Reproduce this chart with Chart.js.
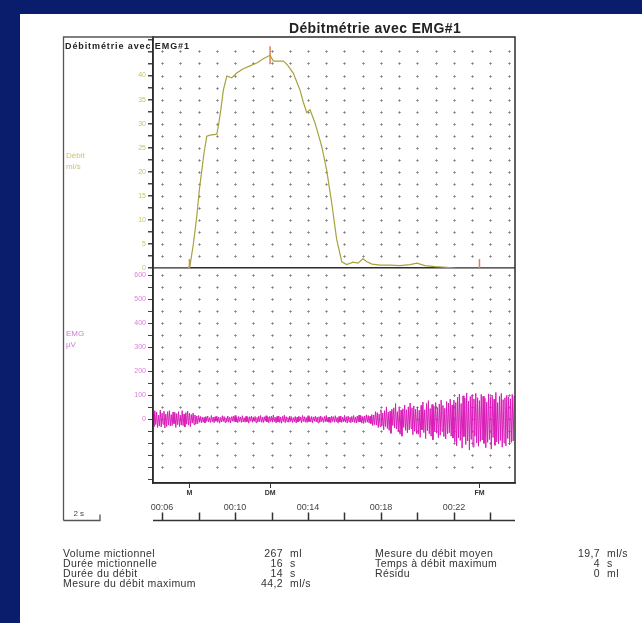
<!DOCTYPE html>
<html>
<head>
<meta charset="utf-8">
<script src="https://cdn.jsdelivr.net/npm/chart.js@4.4.0/dist/chart.umd.min.js"></script>
<style>
  html, body { margin: 0; padding: 0; }
  body { width: 642px; height: 623px; background: #0a1c6c; position: relative; overflow: hidden;
         font-family: 'Liberation Sans', Arial, sans-serif; color: #333; }
  #page { position: absolute; left: 20px; top: 14px; right: 0; bottom: 0; background: #fff; }
  #chart { position: absolute; left: 0; top: 0; }
  .t { position: absolute; white-space: nowrap; }
  .title { left: 375px; top: 20px; transform: translateX(-50%); font-weight: bold; font-size: 14px; letter-spacing: 0.4px; color: #222; }
  .head { left: 65px; top: 42px; font-weight: bold; font-size: 9px; letter-spacing: 0.9px; color: #222; line-height: 9px; }
  .unit { font-size: 8px; line-height: 11px; }
  .stats { font-size: 10.5px; line-height: 10px; letter-spacing: 0.4px; color: #333; }
  .r { text-align: right; }
</style>
</head>
<body>
<div id="page"></div>
<canvas id="chart" width="642" height="623"></canvas>

<div class="t title">Débitmétrie avec EMG#1</div>
<div class="t head">Débitmétrie avec EMG#1</div>
<div class="t unit" style="left:66px; top:150px; color:#c9c470;">Débit<br>ml/s</div>
<div class="t unit" style="left:66px; top:328px; color:#d27ad2;">EMG<br>µV</div>

<div class="t stats" style="left:63px; top:548px;">Volume mictionnel<br>Durée mictionnelle<br>Durée du débit<br>Mesure du débit maximum</div>
<div class="t stats r" style="left:223px; top:548px; width:60px;">267<br>16<br>14<br>44,2</div>
<div class="t stats" style="left:290px; top:548px;">ml<br>s<br>s<br>ml/s</div>
<div class="t stats" style="left:375px; top:548px;">Mesure du débit moyen<br>Temps à débit maximum<br>Résidu</div>
<div class="t stats r" style="left:540px; top:548px; width:60px;">19,7<br>4<br>0</div>
<div class="t stats" style="left:607px; top:548px;">ml/s<br>s<br>ml</div>

<script>
// flow curve, seconds / ml/s
const flowTimes = [5.5, 7.42, 7.53, 7.72, 7.9, 8.04, 8.18, 8.3, 8.45, 8.63, 9.0, 9.08, 9.22, 9.36, 9.55, 9.82,
  10.09, 10.45, 10.82, 11.19, 11.55, 11.92, 12.1, 12.65, 12.87, 13.19, 13.56, 13.74, 13.93, 14.11, 14.38, 14.75,
  15.02, 15.3, 15.57, 15.85, 16.12, 16.47, 16.74, 17.01, 17.23, 17.51, 17.95, 18.49, 19.04, 19.59, 19.97, 20.41,
  20.96, 22.16, 25.35];
const flowValues = [0, 0, 0.5, 5.2, 10.7, 16.2, 20.4, 24, 27.4, 27.6, 27.8, 29.4, 32.9, 37, 39.9, 39.5,
  40.5, 41.4, 42, 42.6, 43.5, 44.2, 43, 43, 42.2, 40.5, 37, 34.5, 32.3, 32.9, 30.2, 25.3,
  20.4, 13.5, 6, 1.3, 0.7, 1.2, 1.0, 1.9, 1.3, 0.8, 0.6, 0.6, 0.5, 0.7, 1.0, 0.5,
  0.3, 0, 0];

// EMG samples, one every 0.05 s from 5.5 s, in µV
const emgStart = 5.5;
const emgStep = 0.05;
const emgValues = [
  // 5.5 - 8.15 s
  24, -30, 36, -22, 30, -34, 18, -28, 38, -32,
  26, -20, 34, -36, 22, -30, 32, -24, 36, -28,
  20, -26, 30, -18, 28, -34, 24, -22, 32, -30,
  18, -24, 36, -26, 22, -32, 28, -20, 34, -24,
  26, -30, 20, -16, 26, -22, 18, -20, 14, -18,
  16, -12, 12, -14,
  // 8.2 - 17.45 s, quiet
  10, -12, 8, -15, 12, -9, 14, -11, 7, -13, 16, -10, 9, -14, 11, -8, 13, -12, 10, -16,
  8, -11, 15, -9, 12, -13, 7, -10, 14, -12, 9, -15, 11, -8, 13, -10, 16, -11, 8, -14,
  12, -9, 10, -13, 15, -11, 7, -12, 13, -10, 9, -16, 11, -8, 14, -12, 10, -9, 12, -14,
  8, -11, 13, -10, 16, -12, 9, -13, 11, -8, 15, -11, 10, -14, 12, -9, 13, -12, 18, -10,
  9, -15, 12, -11, 14, -13, 10, -16, 12, -9, 17, -14, 11, -10, 8, -12, 14, -9, 11, -13,
  7, -10, 12, -15, 9, -11, 13, -8, 10, -14, 16, -9, 11, -12, 8, -13, 15, -10, 9, -11,
  12, -14, 10, -8, 13, -11, 9, -15, 11, -12, 14, -9, 8, -13, 12, -10, 16, -11, 9, -12,
  10, -14, 13, -9, 11, -12, 15, -10, 8, -16, 12, -11, 14, -13, 9, -10, 17, -12, 11, -15,
  13, -10, 9, -14, 12, -11, 16, -13, 10, -15, 14, -12, 18, -11, 15, -16,
  12, -17, 14, -13, 19, -12, 16, -15, 13, -18,
  // 17.5 - 19.95 s
  20, -26, 18, -22, 32, -24, 28, -34, 22, -30,
  40, -28, 26, -44, 36, -30, 52, -38, 30, -46,
  34, -58, 42, -26, 48, -36, 66, -40, 32, -52,
  46, -62, 38, -70, 44, -34, 60, -46, 40, -56,
  52, -44, 68, -38, 48, -64, 56, -50, 42, -60,
  // 20.0 - 21.95 s
  50, -62, 38, -75, 58, -44, 72, -55, 40, -80,
  66, -48, 78, -60, 45, -70, 62, -85, 55, -52,
  70, -58, 48, -76, 64, -66, 80, -50, 58, -72,
  46, -82, 74, -60, 68, -56, 84, -70, 60, -78,
  // 22.0 - 25.3 s
  80, -95, 70, -110, 92, -78, 105, -88, 66, -120,
  98, -72, 88, -105, 110, -90, 76, -128, 95, -84,
  102, -115, 85, -70, 108, -98, 90, -112, 78, -92,
  104, -86, 96, -100, 88, -118, 72, -96, 106, -84,
  92, -124, 100, -76, 84, -108, 112, -94, 70, -102,
  96, -88, 108, -116, 82, -98, 90, -110, 100, -80,
  94, -106, 86, -96, 104, -90, 98
];

// event marks on the flow curve
const markerTimes = [7.5, 11.92, 23.4];
const markerFlow = [0, 44.2, 0];
const markerLabels = ['M', 'DM', 'FM'];

const tMin = 5.5;
const tMax = 25.35;

const flowPoints = flowTimes.map((t, i) => ({ x: t, y: flowValues[i] }));
const emgPoints = emgValues.map((v, i) => ({ x: emgStart + i * emgStep, y: v }));
const markerPoints = markerTimes.map((t, i) => ({ x: t, y: markerFlow[i] }));

function pad2(n) {
  return String(n).padStart(2, '0');
}

// dotted grid, plot box, outer frame and the time ruler under the chart
const paperPlugin = {
  id: 'paper',
  beforeDatasetsDraw(chart) {
    const { ctx, chartArea: a, scales } = chart;
    const rows = [];
    [scales.yF, scales.yE].forEach(s => {
      s.ticks.forEach(tk => {
        const py = s.getPixelForValue(tk.value);
        if (py > s.top + 5 && py < s.bottom - 5) rows.push(Math.round(py) + 0.5);
      });
    });
    ctx.save();
    ctx.strokeStyle = 'rgba(95,95,95,0.55)';
    ctx.lineWidth = 1;
    ctx.beginPath();
    for (let sec = Math.ceil(tMin); sec <= tMax; sec++) {
      const px = Math.round(scales.x.getPixelForValue(sec)) + 0.5;
      if (px < a.left + 4 || px > a.right - 4) continue;
      rows.forEach(py => {
        ctx.moveTo(px - 1.5, py); ctx.lineTo(px + 1.5, py);
        ctx.moveTo(px, py - 1.5); ctx.lineTo(px, py + 1.5);
      });
    }
    ctx.stroke();
    ctx.restore();
  },
  afterDraw(chart) {
    const { ctx, chartArea: a, scales } = chart;
    const x = scales.x;
    const base = Math.round(x.bottom) - 0.5;
    const frameLeft = 63.5;
    ctx.save();
    ctx.strokeStyle = '#2b2b2b';
    ctx.lineWidth = 1.5;
    ctx.strokeRect(a.left, a.top, a.right - a.left, a.bottom - a.top);

    ctx.strokeStyle = '#555';
    ctx.lineWidth = 1.3;
    ctx.beginPath();
    ctx.moveTo(a.left, a.top);
    ctx.lineTo(frameLeft, a.top);
    ctx.lineTo(frameLeft, base);
    ctx.stroke();

    // 2 s scale bar
    const twoSec = x.getPixelForValue(tMin + 2) - x.getPixelForValue(tMin);
    ctx.beginPath();
    ctx.moveTo(frameLeft, base);
    ctx.lineTo(frameLeft + twoSec, base);
    ctx.lineTo(frameLeft + twoSec, base - 6);
    ctx.stroke();
    ctx.fillStyle = '#444';
    ctx.font = '8px "Liberation Sans", Arial';
    ctx.textAlign = 'center';
    ctx.textBaseline = 'bottom';
    ctx.fillText('2 s', frameLeft + twoSec / 2 - 3, base - 3);

    // time ruler
    ctx.strokeStyle = '#333';
    ctx.lineWidth = 1.5;
    ctx.beginPath();
    ctx.moveTo(a.left, base);
    ctx.lineTo(a.right, base);
    x.ticks.forEach(tk => {
      const px = Math.round(x.getPixelForValue(tk.value)) + 0.5;
      ctx.moveTo(px, base);
      ctx.lineTo(px, base - 8);
    });
    ctx.stroke();
    ctx.restore();
  }
};

const tickFont = { family: '"Liberation Sans", Arial', size: 7 };

new Chart(document.getElementById('chart'), {
  type: 'line',
  data: {
    datasets: [
      {
        label: 'Débit',
        data: flowPoints,
        xAxisID: 'x',
        yAxisID: 'yF',
        borderColor: '#a8a23e',
        borderWidth: 1.2,
        pointRadius: 0,
        tension: 0
      },
      {
        label: 'EMG',
        data: emgPoints,
        xAxisID: 'x',
        yAxisID: 'yE',
        borderColor: '#d91cb8',
        borderWidth: 1,
        pointRadius: 0,
        tension: 0
      },
      {
        label: 'Repères',
        data: markerPoints,
        xAxisID: 'x',
        yAxisID: 'yF',
        showLine: false,
        pointStyle: 'line',
        rotation: 90,
        pointRadius: 9,
        pointBorderWidth: 1.5,
        pointBorderColor: '#e0805a',
        pointBackgroundColor: '#e0805a'
      }
    ]
  },
  options: {
    responsive: false,
    animation: false,
    layout: { padding: { left: 121, top: 37, right: 127, bottom: 102 } },
    plugins: { legend: { display: false }, tooltip: { enabled: false } },
    scales: {
      xm: {
        type: 'linear',
        position: 'bottom',
        min: tMin,
        max: tMax,
        afterBuildTicks: s => { s.ticks = markerTimes.map(v => ({ value: v })); },
        afterFit: s => { s.height = 14; },
        ticks: {
          autoSkip: false,
          maxRotation: 0,
          padding: 1,
          color: '#333',
          font: { family: '"Liberation Sans", Arial', size: 7, weight: 'bold' },
          callback: (v, i) => markerLabels[i]
        },
        grid: { drawOnChartArea: false, tickLength: 5, tickColor: '#333' },
        border: { color: '#2b2b2b', width: 1.5 }
      },
      x: {
        type: 'linear',
        position: 'bottom',
        min: tMin,
        max: tMax,
        afterFit: s => { s.height = 24; },
        ticks: {
          stepSize: 2,
          includeBounds: false,
          autoSkip: false,
          maxRotation: 0,
          padding: 5,
          color: '#444',
          font: { family: '"Liberation Sans", Arial', size: 9 },
          callback: v => ((v - 6) % 4 === 0 ? '00:' + pad2(v) : '')
        },
        grid: { drawOnChartArea: false, drawTicks: false },
        border: { display: false }
      },
      yE: {
        type: 'linear',
        position: 'left',
        stack: 'panels',
        stackWeight: 215,
        min: -265,
        max: 630,
        afterFit: s => { s.width = 32; },
        ticks: {
          stepSize: 50,
          includeBounds: false,
          autoSkip: false,
          padding: 2,
          color: '#d77fd5',
          font: tickFont,
          callback: v => (v >= 0 && v % 100 === 0 ? String(v) : '')
        },
        grid: { drawOnChartArea: false, tickLength: 5, tickColor: '#444' },
        border: { color: '#2b2b2b', width: 1.5 }
      },
      yF: {
        type: 'linear',
        position: 'left',
        stack: 'panels',
        stackWeight: 231,
        min: 0,
        max: 48,
        afterFit: s => { s.width = 32; },
        ticks: {
          stepSize: 2.5,
          includeBounds: false,
          autoSkip: false,
          padding: 2,
          color: '#c9c36a',
          font: tickFont,
          callback: v => (v % 5 === 0 && v <= 40 ? String(v) : '')
        },
        grid: {
          drawOnChartArea: true,
          color: c => (c.tick && c.tick.value === 0 ? '#2b2b2b' : 'rgba(0,0,0,0)'),
          lineWidth: 1.5,
          tickLength: 5,
          tickColor: '#444'
        },
        border: { color: '#2b2b2b', width: 1.5 }
      }
    }
  },
  plugins: [paperPlugin]
});
</script>
</body>
</html>
